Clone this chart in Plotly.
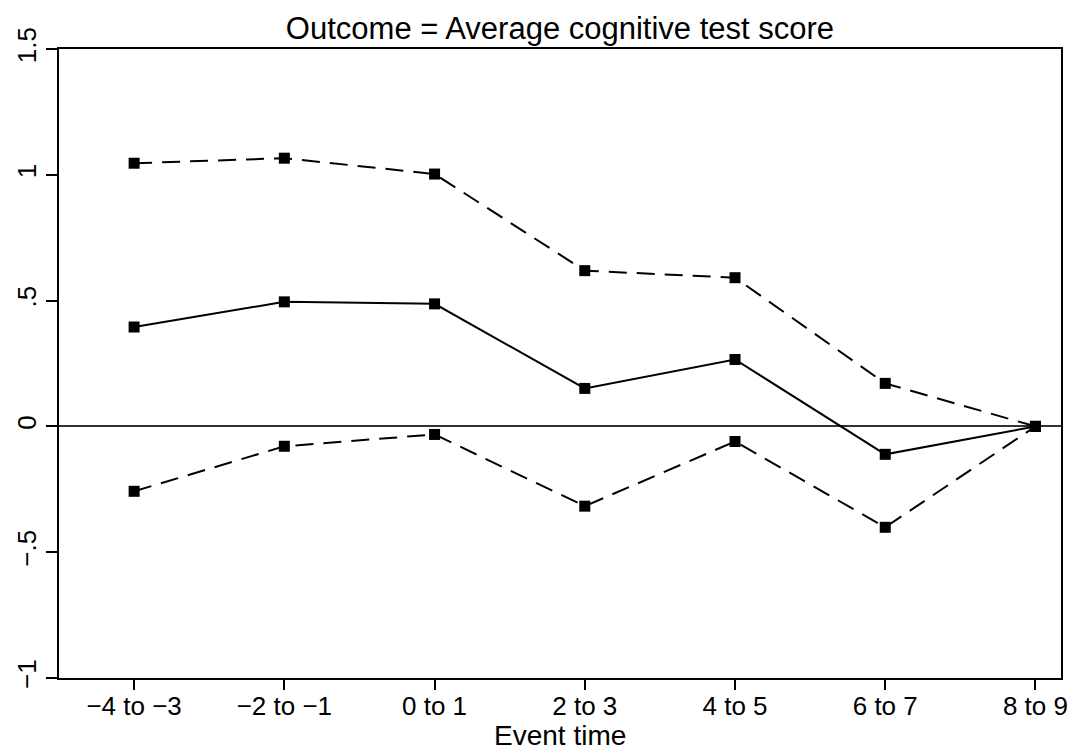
import plotly.graph_objects as go

categories = ["\u22124 to \u22123", "\u22122 to \u22121", "0 to 1", "2 to 3", "4 to 5", "6 to 7", "8 to 9"]
estimate = [0.395, 0.495, 0.487, 0.151, 0.266, -0.111, 0.0]
upper_ci = [1.046, 1.066, 1.003, 0.619, 0.591, 0.171, 0.0]
lower_ci = [-0.258, -0.079, -0.032, -0.317, -0.060, -0.401, 0.0]
y_ticks = [-1, -0.5, 0, 0.5, 1, 1.5]
y_tick_labels = ["\u22121", "\u2212.5", "0", ".5", "1", "1.5"]

x = list(range(len(categories)))
FONT = "Liberation Sans, Arial, Helvetica, sans-serif"

fig = go.Figure()
marker = dict(symbol="square", size=11, color="black")
fig.add_trace(go.Scatter(x=x, y=upper_ci, mode="lines+markers",
                         line=dict(color="black", width=2, dash="18px,10px"), marker=marker))
fig.add_trace(go.Scatter(x=x, y=lower_ci, mode="lines+markers",
                         line=dict(color="black", width=2, dash="18px,10px"), marker=marker))
fig.add_trace(go.Scatter(x=x, y=estimate, mode="lines+markers",
                         line=dict(color="black", width=2), marker=marker))

fig.update_layout(
    width=1076, height=751,
    margin=dict(l=59, r=15, t=49, b=73),
    paper_bgcolor="white", plot_bgcolor="white",
    showlegend=False,
    font=dict(family=FONT, color="black"),
    title=dict(text="Outcome = Average cognitive test score", x=0.5, xref="paper",
               xanchor="center", y=1, yref="paper", yanchor="bottom",
               pad=dict(b=10), font=dict(size=31, family=FONT, color="black")),
    annotations=[dict(text="Event time", x=0.5, xref="paper", y=-0.118, yref="paper",
                      xanchor="center", yanchor="bottom", showarrow=False, borderpad=0,
                      font=dict(size=28, family=FONT, color="black"))],
)
fig.update_xaxes(
    range=[-0.5, 6.17], tickmode="array", tickvals=x, ticktext=categories,
    ticks="outside", ticklen=10, tickwidth=1.5, tickcolor="black",
    ticklabelstandoff=-6,
    showline=True, linecolor="black", linewidth=1.5, mirror=True,
    showgrid=False, zeroline=False, automargin=False,
    tickfont=dict(size=26, family=FONT, color="black"),
)
fig.update_yaxes(
    range=[-1, 1.5], tickmode="array", tickvals=y_ticks, ticktext=y_tick_labels,
    tickangle=-90, automargin=False,
    ticks="outside", ticklen=11, tickwidth=1.5, tickcolor="black",
    showline=True, linecolor="black", linewidth=1.5, mirror=True,
    showgrid=False, zeroline=True, zerolinecolor="#333333", zerolinewidth=1.5,
    tickfont=dict(size=26, family=FONT, color="black"),
)

fig.write_html("out.html")
